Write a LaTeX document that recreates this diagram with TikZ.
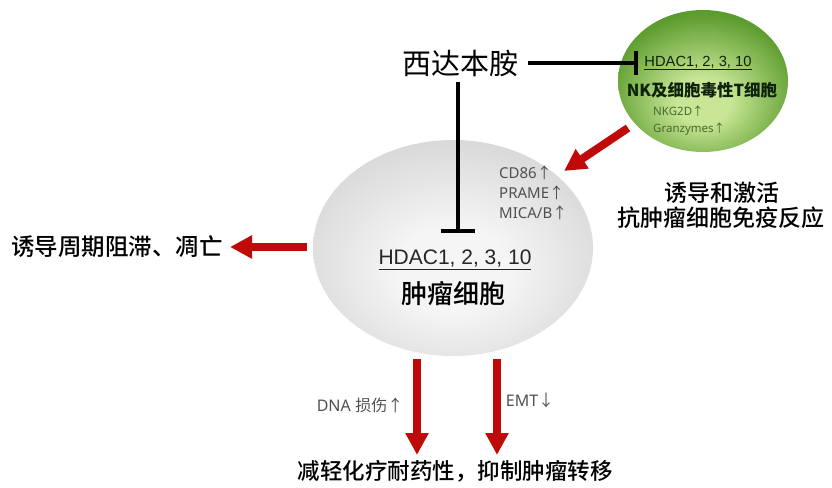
\documentclass[tikz,border=0pt]{standalone}
\usepackage{fontspec}
\setmainfont{Liberation Sans}
\newfontfamily\cjk{Noto Sans CJK SC}
\newfontfamily\cjkm{Noto Sans CJK SC Medium}
\newfontfamily\lat{Noto Sans}
\usetikzlibrary{shapes.geometric,arrows.meta}
\definecolor{arrowred}{RGB}{192,10,10}
\definecolor{gdark}{RGB}{38,105,18}
\definecolor{gmid}{RGB}{95,158,48}
\definecolor{glight}{RGB}{200,230,150}
\definecolor{gtext}{RGB}{15,35,10}
\definecolor{gsmall}{RGB}{70,105,45}
\definecolor{labgray}{RGB}{80,80,80}
\definecolor{gcenter}{RGB}{245,245,245}
\definecolor{gmidgray}{RGB}{215,215,215}
\definecolor{gedge}{RGB}{168,168,168}
\pgfdeclareradialshading{grayball}{\pgfpoint{0bp}{-6bp}}{color(0bp)=(gcenter); color(10bp)=(gcenter); color(30bp)=(gmidgray); color(50bp)=(gedge); color(75bp)=(gedge)}
\pgfdeclareradialshading{greenball}{\pgfpoint{0bp}{-8bp}}{color(0bp)=(glight); color(8bp)=(glight); color(28bp)=(gmid); color(48bp)=(gdark); color(75bp)=(gdark)}
\tikzset{
  inhib/.style={draw=black, line width=4.5pt},
  redarrow/.style={draw=arrowred, line width=8pt, -{Triangle[width=22pt,length=22pt]}},
  cell/.style={ellipse, inner sep=0pt, shade},
  small/.style={font=\lat\fontsize{15}{15}\selectfont, text=labgray, anchor=west, inner sep=0pt},
  big/.style={font=\cjkm\fontsize{23}{23}\selectfont, text=black, inner sep=0pt}
}
\begin{document}
\begin{tikzpicture}[x=1pt,y=-1pt]
\useasboundingbox (0,0) rectangle (832,487);
% cells
\node[cell, shading=grayball, minimum width=280pt, minimum height=216pt] (tumor) at (453,248) {};
\node[cell, shading=greenball, minimum width=170pt, minimum height=142pt] (nk) at (703,81) {};
% drug
\node[font=\cjk\fontsize{29}{29}\selectfont, inner sep=0pt] (drug) at (460,63) {西达本胺};
% green cell texts
\node[font=\fontsize{14.7}{15}\selectfont, text=gtext, inner sep=0pt] (nkhdac) at (698,63) {\underline{HDAC1, 2, 3, 10}};
\node[font=\cjk\bfseries\fontsize{16.5}{17}\selectfont, text=gtext, inner sep=0pt] (nkname) at (702,90) {NK及细胞毒性T细胞};
\node[font=\lat\fontsize{11.5}{12}\selectfont, text=gsmall, anchor=west, inner sep=0pt] (nkg) at (653,111) {NKG2D{\cjk ↑}};
\node[font=\lat\fontsize{11.5}{12}\selectfont, text=gsmall, anchor=west, inner sep=0pt] (gzm) at (653,129) {Granzymes{\cjk ↑}};
% tumor texts
\node[small] (cd86) at (499,173) {CD86{\cjk ↑}};
\node[small] (prame) at (499,193) {PRAME{\cjk ↑}};
\node[small] (mica) at (499,213) {MICA/B{\cjk ↑}};
\node[font=\fontsize{21}{21}\selectfont, text=black!85, inner sep=0pt] (thdac) at (455,260) {\underline{HDAC1, 2, 3, 10}};
\node[font=\cjkm\fontsize{26}{26}\selectfont, inner sep=0pt] (tname) at (453,294) {肿瘤细胞};
% outer texts
\node[big, font=\cjkm\fontsize{23.5}{23.5}\selectfont] (arrest) at (117,247) {诱导周期阻滞、凋亡};
\node[big] (immune1) at (722,193) {诱导和激活};
\node[big] (immune2) at (721,218) {抗肿瘤细胞免疫反应};
\node[big, font=\cjkm\fontsize{22.5}{22.5}\selectfont] (result) at (455,471) {减轻化疗耐药性，抑制肿瘤转移};
\node[font=\fontsize{16}{16}\selectfont, text=labgray, inner sep=0pt] (dna) at (360,405) {{\lat DNA} {\cjk 损伤↑}};
\node[font=\fontsize{16}{16}\selectfont, text=labgray, inner sep=0pt] (emt) at (530,400) {{\lat EMT}{\cjk ↓}};
% coordinates
\coordinate (hstart) at (528,63);
\coordinate (hend) at (638,63);
\coordinate (vstart) at (458,82);
\coordinate (vend) at (458,233);
\coordinate (dstart) at (628,128);
\coordinate (dend) at (564,171);
\coordinate (lstart) at (307,247);
\coordinate (lend) at (230,247);
\coordinate (b1s) at (417,359);
\coordinate (b1e) at (417,455);
\coordinate (b2s) at (497,359);
\coordinate (b2e) at (497,455);
% inhibition
\draw[inhib, -{Bar[width=24pt]}] (hstart) -- (hend);
\draw[inhib, -{Bar[width=34pt]}] (vstart) -- (vend);
% red arrows
\draw[redarrow] (dstart) -- (dend);
\draw[redarrow] (lstart) -- (lend);
\draw[redarrow] (b1s) -- (b1e);
\draw[redarrow] (b2s) -- (b2e);
\end{tikzpicture}
\end{document}
